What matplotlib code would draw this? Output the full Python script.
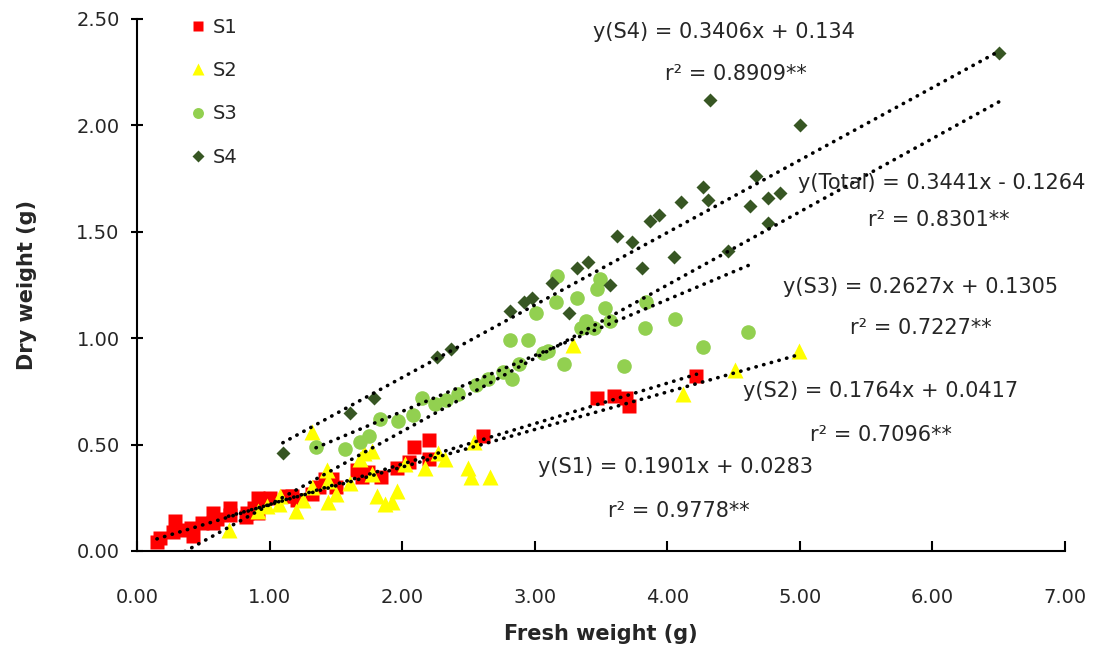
import matplotlib.pyplot as plt
import numpy as np

plt.rcParams['font.family'] = ['DejaVu Sans']

# S1
s1_x = [0.15, 0.17, 0.27, 0.29, 0.35, 0.41, 0.42, 0.49, 0.57, 0.57, 0.60, 0.70, 0.70, 0.82,
        0.83, 0.88, 0.91, 0.91, 0.95, 1.00, 1.13, 1.17, 1.21, 1.32, 1.37, 1.42, 1.47, 1.50,
        1.66, 1.70, 1.74, 1.84, 1.96, 2.05, 2.09, 2.20, 2.20, 2.61, 3.47, 3.60, 3.69, 3.71, 4.22]
s1_y = [0.04, 0.06, 0.09, 0.14, 0.10, 0.11, 0.07, 0.13, 0.18, 0.13, 0.15, 0.20, 0.17, 0.16,
        0.18, 0.20, 0.25, 0.18, 0.23, 0.25, 0.26, 0.26, 0.24, 0.27, 0.30, 0.34, 0.34, 0.30,
        0.38, 0.35, 0.37, 0.35, 0.39, 0.42, 0.49, 0.52, 0.43, 0.54, 0.72, 0.73, 0.72, 0.68, 0.82]

# S2
s2_x = [0.69, 0.91, 0.98, 1.07, 1.08, 1.20, 1.25, 1.32, 1.32, 1.43, 1.44, 1.44, 1.50, 1.61,
        1.68, 1.71, 1.77, 1.77, 1.81, 1.87, 1.92, 1.96, 2.02, 2.17, 2.27, 2.32, 2.50, 2.52,
        2.54, 2.66, 3.29, 4.12, 4.51, 4.99]
s2_y = [0.10, 0.19, 0.21, 0.22, 0.26, 0.19, 0.24, 0.30, 0.56, 0.38, 0.23, 0.33, 0.27, 0.32,
        0.43, 0.46, 0.47, 0.36, 0.26, 0.22, 0.23, 0.28, 0.41, 0.39, 0.46, 0.43, 0.39, 0.35,
        0.51, 0.35, 0.97, 0.74, 0.85, 0.94]

# S3
s3_x = [1.35, 1.57, 1.68, 1.75, 1.83, 1.97, 2.08, 2.15, 2.25, 2.33, 2.42, 2.56, 2.65, 2.76,
        2.83, 2.88, 2.81, 2.95, 3.01, 3.06, 3.10, 3.16, 3.17, 3.22, 3.32, 3.35, 3.39, 3.45,
        3.47, 3.49, 3.53, 3.57, 3.67, 3.83, 3.84, 4.06, 4.27, 4.61]
s3_y = [0.49, 0.48, 0.51, 0.54, 0.62, 0.61, 0.64, 0.72, 0.69, 0.71, 0.74, 0.78, 0.81, 0.84,
        0.81, 0.88, 0.99, 0.99, 1.12, 0.93, 0.94, 1.17, 1.29, 0.88, 1.19, 1.05, 1.08, 1.05,
        1.23, 1.28, 1.14, 1.08, 0.87, 1.05, 1.17, 1.09, 0.96, 1.03]

# S4
s4_x = [1.10, 1.61, 1.79, 2.26, 2.37, 2.81, 2.92, 2.98, 3.13, 3.26, 3.32, 3.40, 3.57, 3.62,
        3.73, 3.81, 3.87, 3.94, 4.05, 4.10, 4.27, 4.31, 4.32, 4.46, 4.62, 4.67, 4.76, 4.76,
        4.85, 5.00, 6.50]
s4_y = [0.46, 0.65, 0.72, 0.91, 0.95, 1.13, 1.17, 1.19, 1.26, 1.12, 1.33, 1.36, 1.25, 1.48,
        1.45, 1.33, 1.55, 1.58, 1.38, 1.64, 1.71, 1.65, 2.12, 1.41, 1.62, 1.76, 1.66, 1.54,
        1.68, 2.00, 2.34]

# เส้นแนวโน้ม: slope, intercept, r2
fits = {
    'S1': (0.1901, 0.0283, 0.9778),
    'S2': (0.1764, 0.0417, 0.7096),
    'S3': (0.2627, 0.1305, 0.7227),
    'S4': (0.3406, 0.134, 0.8909),
    'Total': (0.3441, -0.1264, 0.8301),
}

series = {
    'S1': (s1_x, s1_y, 's', '#FF0000', 10.5),
    'S2': (s2_x, s2_y, '^', '#FFFF00', 11),
    'S3': (s3_x, s3_y, 'o', '#92D050', 10.5),
    'S4': (s4_x, s4_y, 'D', '#375623', 7.5),
}

fig = plt.figure(figsize=(10.98, 6.55), dpi=100)
ax = fig.add_axes([0.1248, 0.1588, 0.8452, 0.8122])

for name, (xs, ys, m, c, ms) in series.items():
    ax.plot(xs, ys, m, color=c, ms=ms, mec='none', label=name, zorder=2)

all_x = s1_x + s2_x + s3_x + s4_x
ranges = {
    'S1': (min(s1_x), max(s1_x)),
    'S2': (min(s2_x), max(s2_x)),
    'S3': (min(s3_x), max(s3_x)),
    'S4': (min(s4_x), max(s4_x)),
    'Total': (min(all_x), max(all_x)),
}
for name, (a, b, r2) in fits.items():
    xx = np.array(ranges[name])
    ax.plot(xx, a * xx + b, color='black', lw=2.6, linestyle=(0, (0.1, 2.1)),
            dash_capstyle='round', zorder=3)

txt = dict(fontsize=15, color='#262626', ha='center', va='center', zorder=4)
ax.text(4.43, 2.44, 'y(S4) = 0.3406x + 0.134', **txt)
ax.text(4.52, 2.24, 'r² = 0.8909**', **txt)
ax.text(6.07, 1.73, 'y(Total) = 0.3441x - 0.1264', **txt)
ax.text(6.05, 1.555, 'r² = 0.8301**', **txt)
ax.text(5.91, 1.24, 'y(S3) = 0.2627x + 0.1305', **txt)
ax.text(5.91, 1.05, 'r² = 0.7227**', **txt)
ax.text(5.61, 0.75, 'y(S2) = 0.1764x + 0.0417', **txt)
ax.text(5.61, 0.545, 'r² = 0.7096**', **txt)
ax.text(4.06, 0.395, 'y(S1) = 0.1901x + 0.0283', **txt)
ax.text(4.09, 0.19, 'r² = 0.9778**', **txt)

ax.set_xlim(0, 7)
ax.set_ylim(0, 2.5)
ax.set_xticks(np.arange(0, 7.01, 1))
ax.set_yticks(np.arange(0, 2.51, 0.5))
ax.set_xticklabels([f'{v:.2f}' for v in np.arange(0, 7.01, 1)])
ax.set_yticklabels([f'{v:.2f}' for v in np.arange(0, 2.51, 0.5)])
ax.spines['top'].set_visible(False)
ax.spines['right'].set_visible(False)
ax.spines['left'].set_linewidth(1.5)
ax.spines['bottom'].set_linewidth(1.5)
ax.tick_params(axis='x', direction='in', length=7, width=1.5, labelsize=14,
               labelcolor='#262626', pad=27)
ax.tick_params(axis='y', direction='inout', length=9, width=1.5, labelsize=14,
               labelcolor='#262626', pad=8)

ax.set_xlabel('Fresh weight (g)', fontsize=15, fontweight='bold', color='#262626', labelpad=12)
ax.set_ylabel('Dry weight (g)', fontsize=15, fontweight='bold', color='#262626', labelpad=28)

leg = ax.legend(loc='upper left', bbox_to_anchor=(0.036, 1.035), frameon=False, fontsize=14,
                labelspacing=1.25, handletextpad=0.3, markerscale=0.75, handlelength=1)
for t in leg.get_texts():
    t.set_color('#262626')

fig.savefig('out.png', dpi=100)
